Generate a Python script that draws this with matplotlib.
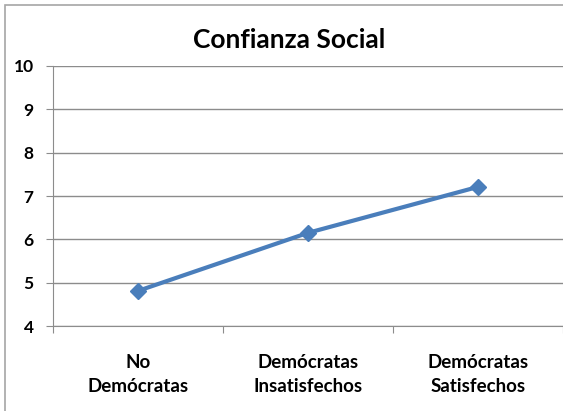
import matplotlib.pyplot as plt
from matplotlib.patches import Rectangle

categories = ["No\nDemócratas", "Demócratas\nInsatisfechos", "Demócratas\nSatisfechos"]
confianza = [4.81, 6.15, 7.21]
y_ticks = [4, 5, 6, 7, 8, 9, 10]

plt.rcParams["font.family"] = ["Lato", "DejaVu Sans"]

fig = plt.figure(figsize=(5.63, 4.11), dpi=100)

# chart frame
fig.patches.append(Rectangle((5 / 563, -0.1), 1.2, (411 - 5) / 411 + 0.1,
                             transform=fig.transFigure, fill=False,
                             edgecolor="#a6a6a6", linewidth=1.2))

ax = fig.add_axes([53 / 563, 85 / 411, 1 - 53 / 563, 260 / 411])

x = list(range(len(categories)))
ax.plot(x, confianza, color="#4a7ebb", linewidth=3, marker="D",
        markersize=8, zorder=3)

ax.set_xlim(-0.5, len(categories) - 0.5)
ax.set_ylim(4, 10)
ax.set_yticks(y_ticks)
ax.set_yticklabels([str(v) for v in y_ticks])
ax.grid(axis="y", color="#8c8c8c", linewidth=1)
ax.set_axisbelow(True)

ax.set_xticks([i - 0.5 for i in range(len(categories) + 1)])
ax.set_xticklabels([])
ax.set_xticks(x, minor=True)
ax.set_xticklabels(categories, minor=True, fontsize=13.5, fontweight="bold",
                   linespacing=1.55)
ax.tick_params(axis="x", which="minor", length=0, pad=20)
ax.tick_params(axis="x", which="major", length=5, color="#8c8c8c")
ax.tick_params(axis="y", length=5, color="#8c8c8c", labelsize=12.5, pad=9)
for lbl in ax.get_yticklabels():
    lbl.set_fontweight("bold")

for side in ["top", "right"]:
    ax.spines[side].set_visible(False)
for side in ["left", "bottom"]:
    ax.spines[side].set_color("#8c8c8c")

fig.text(289 / 563, 1 - 40 / 411, "Confianza Social", ha="center", va="center",
         fontsize=19, fontweight="bold")

fig.savefig("out.png", dpi=100)
